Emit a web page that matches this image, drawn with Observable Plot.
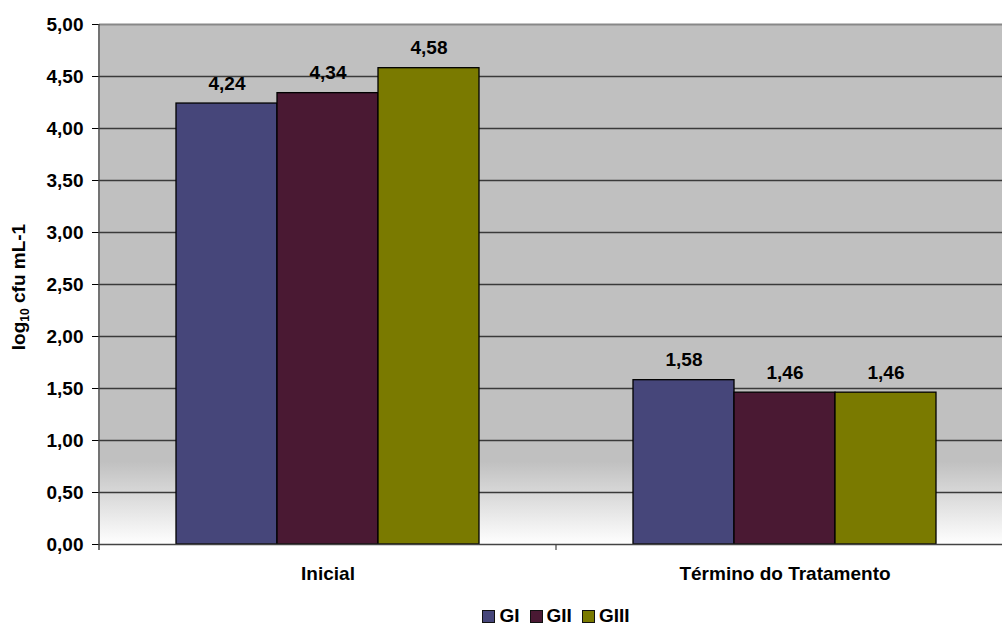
<!DOCTYPE html>
<html>
<head>
<meta charset="utf-8">
<script src="https://cdn.jsdelivr.net/npm/d3@7"></script>
<script src="https://cdn.jsdelivr.net/npm/@observablehq/plot@0.6"></script>
<style>
  body { margin: 0; background: #fff; font-family: "Liberation Sans", Arial, sans-serif; }
  #chart { width: 1002px; overflow: hidden; }
  #chart svg { display: block; max-width: none !important; }
  #legend {
    display: flex; justify-content: center; align-items: center;
    width: 1002px; height: 18px; line-height: 18px; margin-top: 9px; padding-left: 110px; box-sizing: border-box;
    font-weight: bold; font-size: 19px; color: #000;
  }
  #legend .item { display: flex; align-items: center; margin: 0 5px; }
  #legend .sw { width: 11px; height: 11px; border: 1px solid #111; margin-right: 4px; }
</style>
</head>
<body>
<svg width="0" height="0" style="position:absolute">
  <defs>
    <linearGradient id="wallFill" x1="0" y1="0" x2="0" y2="1">
      <stop offset="0" stop-color="#c0c0c0"/>
      <stop offset="0.84" stop-color="#c0c0c0"/>
      <stop offset="1" stop-color="#ffffff"/>
    </linearGradient>
  </defs>
</svg>
<div id="chart"></div>
<div id="legend"></div>
<script>
// Bacterial counts (log10 cfu/mL) per group, at baseline and end of treatment
const stages = ["Inicial", "Término do Tratamento"];
const groups = ["GI", "GII", "GIII"];
const groupColors = ["#46467a", "#4a1933", "#7a7a00"];
const inicialValues = [4.24, 4.34, 4.58];
const terminoValues = [1.58, 1.46, 1.46];
const yTicks = [0, 0.5, 1, 1.5, 2, 2.5, 3, 3.5, 4, 4.5, 5];

const rows = [];
groups.forEach((g, i) => {
  rows.push({stage: stages[0], group: g, value: inicialValues[i]});
  rows.push({stage: stages[1], group: g, value: terminoValues[i]});
});

const fmt = v => v.toFixed(2).replace(".", ",");
const fontFamily = "'Liberation Sans', Arial, sans-serif";

// The plotting area runs slightly past the right edge of the page
const plot = Plot.plot({
  width: 1013,
  height: 598,
  marginLeft: 99,
  marginRight: 0,
  marginTop: 24,
  marginBottom: 54,
  style: {fontFamily, fontWeight: "bold", fontSize: "19px", color: "#000", background: "transparent", overflow: "visible", maxWidth: "none"},
  fx: {domain: stages, padding: 0, label: null, tickSize: 0, tickPadding: 22},
  x: {domain: groups, paddingInner: 0, paddingOuter: 0.75, axis: null},
  y: {domain: [0, 5], ticks: yTicks, tickFormat: fmt, label: null, tickSize: 7, tickPadding: 9},
  color: {domain: groups, range: groupColors},
  marks: [
    Plot.frame({fill: "url(#wallFill)", stroke: null, shapeRendering: "crispEdges"}),
    Plot.ruleY(yTicks.filter(t => t > 0 && t < 5), {stroke: "#3a3a3a", strokeWidth: 1.3, strokeOpacity: 1}),
    Plot.ruleY([5], {stroke: "#888888", strokeWidth: 2, strokeOpacity: 1}),
    Plot.barY(rows, {fx: "stage", x: "group", y: "value", fill: "group", stroke: "#000", strokeWidth: 1.3}),
    Plot.ruleY([0], {stroke: "#444", strokeWidth: 1.5, strokeOpacity: 1}),
    Plot.text(rows, {fx: "stage", x: "group", y: "value", text: d => fmt(d.value), lineAnchor: "bottom", dy: -14, fontSize: 19, fontWeight: "bold", fill: "#000"})
  ]
});

// Left axis line and category boundary ticks, placed from the plot's own scales
const svg = d3.select(plot);
const fxScale = plot.scale("fx");
const yScale = plot.scale("y");
const y0 = yScale.apply(0);
const y5 = yScale.apply(5);
const left = fxScale.apply(stages[0]);
const bounds = stages.map(s => fxScale.apply(s)).concat([fxScale.apply(stages[stages.length - 1]) + fxScale.bandwidth]);

svg.append("line")
  .attr("x1", left).attr("x2", left).attr("y1", y5).attr("y2", y0 + 6)
  .attr("stroke", "#444").attr("stroke-width", 1.5);
bounds.slice(1).forEach(bx => {
  svg.append("line")
    .attr("x1", bx).attr("x2", bx).attr("y1", y0).attr("y2", y0 + 6)
    .attr("stroke", "#444").attr("stroke-width", 1.2);
});

// Rotated y-axis title with subscript
const title = svg.append("text")
  .attr("transform", `translate(25,${(y0 + y5) / 2 + 3}) rotate(-90)`)
  .attr("text-anchor", "middle")
  .attr("font-family", fontFamily)
  .attr("font-weight", "bold")
  .attr("font-size", 19)
  .attr("fill", "#000");
title.append("tspan").text("log");
title.append("tspan").attr("font-size", 12).attr("dy", 4).text("10");
title.append("tspan").attr("dy", -4).text(" cfu mL-1");

document.getElementById("chart").appendChild(plot);

// Legend
const legend = d3.select("#legend");
groups.forEach((g, i) => {
  const item = legend.append("div").attr("class", "item");
  item.append("div").attr("class", "sw").style("background", groupColors[i]);
  item.append("span").text(g);
});
</script>
</body>
</html>
